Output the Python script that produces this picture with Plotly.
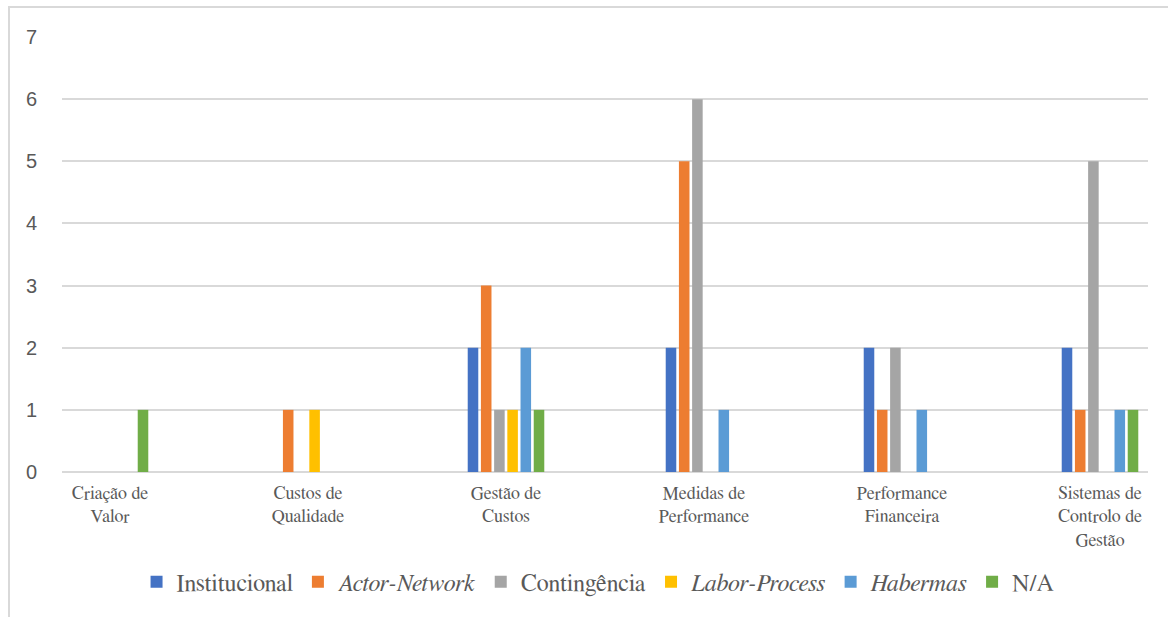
import plotly.graph_objects as go

categories = ["Criação de<br>Valor", "Custos de<br>Qualidade", "Gestão de<br>Custos",
              "Medidas de<br>Performance", "Performance<br>Financeira",
              "Sistemas de<br>Controlo de<br>Gestão"]

series_names = ["Institucional", "<i>Actor-Network</i>", "Contingência",
                "<i>Labor-Process</i>", "<i>Habermas</i>", "N/A"]

institucional = [0, 0, 2, 2, 2, 2]
actor_network = [0, 1, 3, 5, 1, 1]
contingencia = [0, 0, 1, 6, 2, 5]
labor_process = [0, 1, 1, 0, 0, 0]
habermas = [0, 0, 2, 1, 1, 1]
na = [1, 0, 1, 0, 0, 1]

series_values = [institucional, actor_network, contingencia, labor_process, habermas, na]
colors = ["#4472C4", "#ED7D31", "#A5A5A5", "#FFC000", "#5B9BD5", "#70AD47"]

serif = "FreeSerif"

fig = go.Figure()
for name, vals, col in zip(series_names, series_values, colors):
    fig.add_trace(go.Bar(
        x=list(range(len(categories))), y=vals, name=name,
        marker=dict(color=col, line=dict(width=0)),
    ))

text_col = "#595959"
grid_col = "#D9D9D9"

fig.update_layout(
    width=1168, height=617,
    margin=dict(l=62, r=20, t=37, b=145),
    paper_bgcolor="white", plot_bgcolor="white",
    barmode="group", bargap=0.6, bargroupgap=0.2,
    showlegend=True,
    legend=dict(orientation="h", x=0.4936, xanchor="center", y=-0.253, yanchor="middle",
                font=dict(family=serif, size=24, color=text_col),
                traceorder="normal", itemclick=False),
    xaxis=dict(
        tickmode="array", tickvals=list(range(len(categories))), ticktext=categories,
        range=[-0.2424, 5.2424], showgrid=False, zeroline=False, showline=False,
        ticks="", ticklabelstandoff=8,
        tickfont=dict(family=serif, size=18, color=text_col),
    ),
    yaxis=dict(
        range=[0, 7], dtick=1, tick0=0, showgrid=True, gridcolor=grid_col, gridwidth=2,
        zeroline=True, zerolinecolor=grid_col, zerolinewidth=2, showline=False,
        ticks="", ticklabelstandoff=24,
        tickfont=dict(family="Liberation Sans", size=20, color=text_col),
    ),
    shapes=[dict(type="rect", xref="paper", yref="paper",
                 x0=-0.0488, x1=1.03, y0=-0.36, y1=1.069,
                 line=dict(color=grid_col, width=2), fillcolor="rgba(0,0,0,0)",
                 layer="below")],
)

fig.write_html("out.html")
